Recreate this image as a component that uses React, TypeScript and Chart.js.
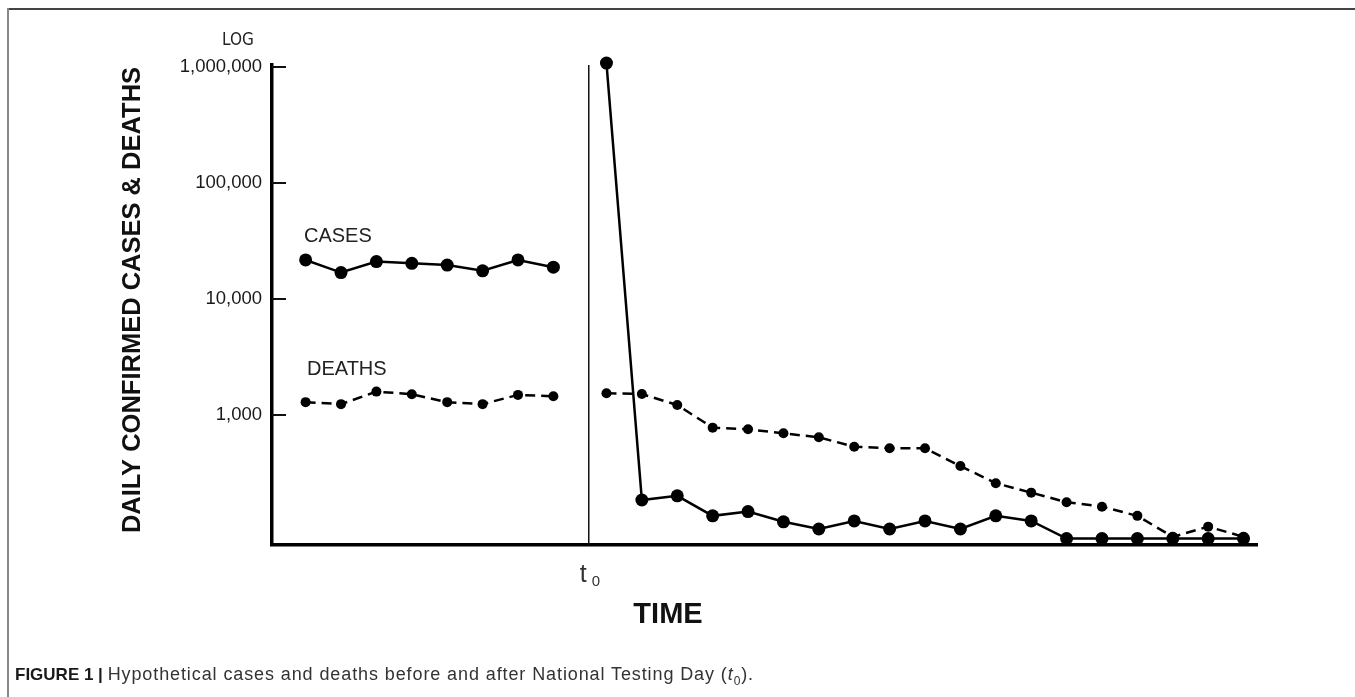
import React, { useEffect, useRef } from "react";
import { Chart, registerables } from "chart.js";

Chart.register(...registerables);

// ---- data ----
const beforeDays = [0, 1, 2, 3, 4, 5, 6, 7];
const afterDays = [8.5, 9.5, 10.5, 11.5, 12.5, 13.5, 14.5, 15.5, 16.5, 17.5, 18.5, 19.5, 20.5, 21.5, 22.5, 23.5, 24.5, 25.5, 26.5];
const testingDay = 8;

const casesBefore = [21700, 16900, 21000, 20300, 19600, 17500, 21700, 18800];
const deathsBefore = [1290, 1240, 1590, 1510, 1290, 1240, 1490, 1450];
const casesAfter = [1080000, 185, 201, 135, 147, 120, 104, 122, 104, 122, 104, 135, 122, 86, 86, 86, 86, 86, 86];
const deathsAfter = [1538, 1517, 1219, 778, 753, 695, 642, 533, 516, 516, 363, 258, 214, 177, 162, 135, 89, 109, 89];

const yTickValues = [1000, 10000, 100000, 1000000];
const yMin = 75.7;
const yMax = 1040500;
const xMin = -0.95;
const xMax = 26.88;

const toPts = (xs: number[], ys: number[]) => xs.map((x, i) => ({ x, y: ys[i] }));

const overlayPlugin = {
  id: "overlay",
  afterDraw(chart: any) {
    const ctx: CanvasRenderingContext2D = chart.ctx;
    const xs = chart.scales.x;
    const ys = chart.scales.y;
    const area = chart.chartArea;
    ctx.save();
    // inner tick marks on the y axis
    ctx.strokeStyle = "#111";
    ctx.lineWidth = 2;
    ys.ticks.forEach((t: any) => {
      const py = Math.round(ys.getPixelForValue(t.value));
      ctx.beginPath();
      ctx.moveTo(area.left, py);
      ctx.lineTo(area.left + 14, py);
      ctx.stroke();
    });

    // y axis title
    ctx.save();
    ctx.translate(133, 300);
    ctx.rotate(-Math.PI / 2);
    ctx.font = 'bold 25.5px "Liberation Sans", Arial, sans-serif';
    ctx.fillStyle = "#111";
    ctx.textAlign = "center";
    ctx.textBaseline = "middle";
    ctx.fillText("DAILY CONFIRMED CASES & DEATHS", 0, 0);
    ctx.restore();

    ctx.fillStyle = "#222";
    ctx.textBaseline = "middle";
    // LOG
    ctx.font = '17px "Liberation Sans Narrow", "DejaVu Sans Condensed", sans-serif';
    ctx.textAlign = "center";
    ctx.fillText("LOG", 238, 41);

    // series labels
    ctx.font = '20px "Liberation Sans", Arial, sans-serif';
    ctx.textAlign = "left";
    ctx.fillText("CASES", 304, 236);
    ctx.fillText("DEATHS", 307, 369);

    // t0 label
    const tx = xs.getPixelForValue(testingDay);
    ctx.textBaseline = "alphabetic";
    ctx.font = '25px "Liberation Sans", Arial, sans-serif';
    ctx.fillStyle = "#333";
    ctx.fillText("t", tx - 9, 582);
    ctx.font = '15px "Liberation Sans", Arial, sans-serif';
    ctx.fillText("0", tx + 3, 586);

    // TIME
    ctx.font = 'bold 29px "Liberation Sans", Arial, sans-serif';
    ctx.fillStyle = "#111";
    ctx.textAlign = "center";
    ctx.textBaseline = "middle";
    ctx.fillText("TIME", 668, 615);
    ctx.restore();
  },
};

export default function App() {
  const ref = useRef<HTMLCanvasElement | null>(null);

  useEffect(() => {
    if (!ref.current) return;
    const solid = {
      borderColor: "#000",
      backgroundColor: "#000",
      borderWidth: 2.5,
      pointRadius: 6.5,
      pointBackgroundColor: "#000",
      pointBorderWidth: 0,
      tension: 0,
      clip: false as const,
    };
    const dashed = {
      borderColor: "#000",
      backgroundColor: "#000",
      borderWidth: 2.5,
      borderDash: [10, 6],
      pointRadius: 5,
      pointBackgroundColor: "#000",
      pointBorderWidth: 0,
      tension: 0,
      clip: false as const,
    };
    const chart = new Chart(ref.current, {
      type: "line",
      data: {
        datasets: [
          {
            label: "t0",
            data: [
              { x: testingDay, y: yMin },
              { x: testingDay, y: yMax },
            ],
            borderColor: "#111",
            borderWidth: 1.5,
            pointRadius: 0,
            clip: false,
          } as any,
          { label: "Cases before", data: toPts(beforeDays, casesBefore), ...solid },
          { label: "Deaths before", data: toPts(beforeDays, deathsBefore), ...dashed },
          { label: "Deaths after", data: toPts(afterDays, deathsAfter), ...dashed },
          { label: "Cases after", data: toPts(afterDays, casesAfter), ...solid },
        ],
      },
      options: {
        animation: false,
        responsive: false,
        events: [],
        layout: { padding: { left: 119, top: 65, right: 98, bottom: 0 } },
        plugins: {
          legend: { display: false },
          tooltip: { enabled: false },
        },
        scales: {
          x: {
            type: "linear",
            min: xMin,
            max: xMax,
            grid: { display: false, drawTicks: false },
            border: { display: true, color: "#000", width: 3.5 },
            ticks: { display: false },
            afterFit: (s: any) => {
              s.height = 152;
            },
          },
          y: {
            type: "logarithmic",
            min: yMin,
            max: yMax,
            bounds: "data",
            grid: { display: false, drawTicks: false },
            border: { display: true, color: "#000", width: 3.5 },
            afterBuildTicks: (s: any) => {
              s.ticks = yTickValues.map((v) => ({ value: v }));
            },
            ticks: {
              autoSkip: false,
              padding: 10,
              color: "#1a1a1a",
              font: { family: '"Liberation Sans", Arial, sans-serif', size: 18.5 },
              callback: (v: any) => Number(v).toLocaleString("en-US"),
            },
            afterFit: (s: any) => {
              s.width = 153;
            },
          },
        },
      },
      plugins: [overlayPlugin],
    });
    return () => chart.destroy();
  }, []);

  return (
    <div style={{ position: "absolute", left: 0, top: 0, width: 1355, height: 697, background: "#fff", overflow: "hidden" }}>
      <div style={{ position: "absolute", left: 7, top: 8, right: 0, height: 2, background: "#444" }} />
      <div style={{ position: "absolute", left: 7, top: 8, width: 2, bottom: 0, background: "#888" }} />
      <canvas ref={ref} width={1355} height={697} style={{ position: "absolute", left: 0, top: 0, width: 1355, height: 697 }} />
      <div
        style={{
          position: "absolute",
          left: 15,
          top: 664,
          fontFamily: '"Liberation Sans", Arial, sans-serif',
          fontSize: 17,
          color: "#333",
          whiteSpace: "nowrap",
        }}
      >
        <span style={{ fontWeight: "bold", color: "#1a1a1a" }}>FIGURE 1 |</span>{" "}
        <span style={{ fontSize: 18, letterSpacing: 0.9 }}>
          Hypothetical cases and deaths before and after National Testing Day (<i>t</i>
          <sub style={{ fontSize: 12 }}>0</sub>).
        </span>
      </div>
    </div>
  );
}
